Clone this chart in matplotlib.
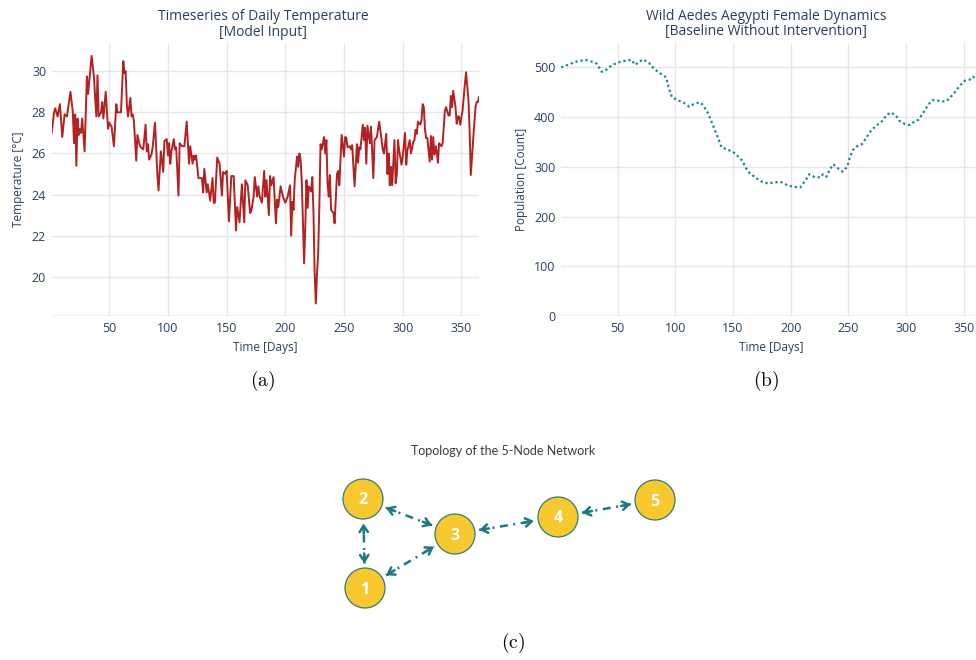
import matplotlib
matplotlib.use("Agg")
import matplotlib.pyplot as plt
from matplotlib.patches import Circle

# ---- data ---------------------------------------------------------------
temp_days = [1, 3, 4, 6, 8, 10, 12, 14, 17, 19, 20, 21, 22, 23, 24, 25, 26, 27, 29,
             31, 32, 34, 35, 36, 37, 39, 40, 41, 43, 44, 45, 47, 49, 50, 52, 54, 56,
             57, 60, 62, 63, 64, 65, 66, 68, 69, 70, 71, 73, 74, 76, 77, 79, 81, 82,
             83, 84, 86, 87, 89, 91, 92, 94, 96, 97, 99, 100, 101, 102, 103, 105, 106,
             107, 109, 110, 112, 114, 116, 118, 119, 121, 122, 123, 124, 126, 128, 129,
             130, 131, 133, 134, 136, 138, 139, 140, 142, 144, 146, 147, 149, 150, 152,
             154, 156, 158, 159, 161, 163, 165, 166, 168, 170, 171, 173, 174, 176, 177,
             178, 180, 182, 183, 184, 186, 187, 188, 190, 192, 193, 194, 196, 198, 199,
             200, 202, 204, 205, 206, 207, 208, 210, 211, 212, 213, 214, 216, 217, 218,
             219, 220, 222, 223, 224, 225, 226, 227, 228, 229, 230, 231, 233, 234, 235,
             236, 237, 238, 239, 241, 242, 244, 245, 246, 248, 250, 251, 252, 253, 255,
             256, 257, 259, 261, 262, 263, 264, 266, 267, 268, 269, 270, 272, 273, 275,
             276, 278, 280, 282, 283, 284, 286, 287, 288, 289, 290, 291, 293, 294, 295,
             296, 297, 299, 300, 302, 303, 304, 306, 307, 309, 310, 311, 312, 313, 315,
             316, 317, 318, 319, 320, 321, 323, 324, 325, 326, 327, 328, 329, 330, 331,
             333, 334, 336, 337, 339, 340, 341, 342, 343, 345, 346, 347, 348, 349, 351,
             353, 354, 356, 357, 358, 360, 362, 363, 364, 365]
temp_vals = [27.0, 28.0, 28.2, 27.8, 28.4, 26.8, 27.9, 27.8, 29.0, 28.0, 26.5, 27.9,
             25.4, 27.7, 26.9, 27.2, 27.0, 27.7, 26.1, 29.75, 28.9, 30.1, 30.75, 30.2,
             29.7, 27.8, 29.8, 27.8, 28.0, 28.5, 27.7, 29.0, 27.2, 27.5, 27.3, 26.35,
             28.4, 28.0, 28.0, 30.5, 29.9, 30.0, 28.4, 27.8, 28.7, 27.8, 27.9, 27.6,
             25.65, 26.9, 26.4, 26.3, 26.2, 27.4, 26.1, 26.45, 25.7, 25.95, 26.3, 27.5,
             25.0, 24.2, 26.1, 25.1, 26.6, 26.7, 25.9, 26.5, 25.5, 26.1, 26.7, 26.2,
             26.3, 23.95, 26.5, 26.35, 26.35, 27.55, 25.5, 26.35, 25.5, 25.9, 25.7,
             25.9, 24.8, 24.8, 24.8, 24.1, 25.25, 24.1, 24.5, 23.7, 24.8, 23.6, 23.6,
             25.8, 25.5, 23.95, 25.1, 25.0, 25.15, 22.7, 24.9, 24.9, 22.25, 23.4, 22.65,
             24.5, 22.65, 24.7, 24.45, 23.1, 23.2, 23.9, 24.85, 23.9, 24.4, 23.95, 23.6,
             25.15, 23.9, 24.7, 23.0, 24.9, 24.45, 24.85, 22.6, 23.75, 23.4, 24.4, 23.9,
             23.75, 23.6, 23.9, 24.45, 22.0, 23.65, 23.25, 24.7, 25.85, 25.35, 26.0,
             25.7, 24.7, 20.65, 22.4, 24.7, 23.35, 24.4, 24.15, 24.85, 23.1, 20.15, 18.7,
             20.15, 21.15, 23.45, 26.45, 26.2, 26.8, 26.0, 26.65, 24.55, 23.9, 24.95,
             23.25, 23.1, 22.6, 25.0, 25.15, 24.45, 26.9, 25.85, 26.8, 26.75, 26.3,
             26.35, 26.2, 26.4, 24.4, 26.45, 25.55, 26.3, 26.2, 27.4, 26.65, 27.25, 25.5,
             27.35, 26.5, 27.3, 24.8, 26.65, 26.8, 27.55, 26.65, 26.2, 26.0, 26.95, 25.0,
             26.0, 24.45, 25.35, 24.45, 26.65, 24.55, 25.0, 26.65, 26.15, 25.45, 25.85,
             27.0, 25.45, 26.15, 26.65, 26.0, 26.55, 26.65, 27.15, 26.95, 27.55, 27.4,
             27.6, 28.4, 28.25, 27.15, 26.75, 26.75, 25.6, 26.85, 25.7, 26.8, 25.95,
             26.35, 26.1, 25.55, 26.5, 26.35, 26.5, 28.1, 28.25, 27.85, 27.85, 28.8,
             28.25, 29.05, 28.25, 27.45, 27.8, 27.8, 27.4, 28.1, 29.4, 29.95, 28.6,
             27.15, 24.95, 26.65, 28.25, 28.5, 28.5, 28.75]

pop_days = [1, 7, 13, 22, 28, 32, 36, 39, 43, 49, 56, 62, 65, 69, 72, 77, 82, 88, 92,
            94, 97, 102, 107, 112, 116, 121, 124, 128, 132, 136, 140, 146, 152, 158,
            163, 169, 175, 181, 184, 191, 197, 202, 208, 213, 216, 221, 226, 228, 231,
            234, 237, 241, 245, 249, 251, 254, 258, 262, 266, 270, 275, 280, 283, 287,
            291, 294, 299, 303, 306, 311, 315, 319, 323, 328, 334, 337, 342, 347, 351,
            355, 358, 361, 365]
pop_vals = [500, 505, 511, 515, 511, 507, 491, 493, 501, 509, 513, 515, 505, 511, 516,
            509, 496, 486, 480, 461, 440, 434, 429, 421, 426, 430, 424, 409, 387, 364,
            339, 334, 327, 312, 290, 279, 270, 266, 268, 270, 263, 260, 258, 273, 285,
            279, 279, 285, 280, 295, 305, 297, 290, 300, 317, 334, 342, 346, 360, 374,
            384, 393, 404, 409, 404, 393, 386, 384, 389, 395, 409, 424, 434, 433, 431,
            436, 449, 464, 473, 475, 481, 476, 471]

# network: node labels, layout coordinates and bidirectional links
node_names = ["1", "2", "3", "4", "5"]
node_x = [-1.45, -1.47, -0.55, 0.48, 1.45]
node_y = [-0.48, 0.41, 0.06, 0.23, 0.40]
links = [(1, 2), (2, 3), (1, 3), (3, 4), (4, 5)]

# ---- style --------------------------------------------------------------
FONT = "Open Sans"
INK = "#2a3f5f"
GRID = "#e6e6e6"
plt.rcParams["font.family"] = [FONT, "DejaVu Sans"]
plt.rcParams["mathtext.fontset"] = "cm"

W, H = 976, 660
fig = plt.figure(figsize=(W / 100, H / 100), dpi=100)


def px_box(x0, y0, x1, y1):
    return [x0 / W, 1 - y1 / H, (x1 - x0) / W, (y1 - y0) / H]


def style_axis(ax):
    for s in ax.spines.values():
        s.set_visible(False)
    ax.grid(True, color=GRID, lw=1)
    ax.set_axisbelow(True)
    ax.tick_params(length=0, labelsize=9, labelcolor=INK, pad=4)
    ax.axhline(ax.get_ylim()[0], color="#ebf0f8", lw=2, zorder=0)


# (a) temperature
ax1 = fig.add_axes(px_box(51.7, 42.7, 479, 316))
ax1.plot(temp_days, temp_vals, color="#b22222", lw=1.4)
ax1.set_xlim(1, 365)
ax1.set_ylim(18.09, 31.39)
ax1.set_xticks(range(50, 351, 50))
ax1.set_yticks(range(20, 31, 2))
style_axis(ax1)
ax1.set_xlabel("Time [Days]", fontsize=8.5, color=INK)
ax1.set_ylabel("Temperature [°C]", fontsize=8.5, color=INK)
ax1.xaxis.set_label_coords(0.5, -0.092)
ax1.yaxis.set_label_coords(-0.062, 0.5)

# (b) population
ax2 = fig.add_axes(px_box(561.2, 42.7, 981, 316))
ax2.plot(pop_days, pop_vals, color="#1a8494", lw=1.6, ls=(0, (1, 1.3)))
ax2.set_xlim(1, 365)
ax2.set_ylim(0, 549.5)
ax2.set_xticks(range(50, 351, 50))
ax2.set_yticks(range(0, 501, 100))
style_axis(ax2)
ax2.set_xlabel("Time [Days]", fontsize=8.5, color=INK)
ax2.set_ylabel("Population [Count]", fontsize=8.5, color=INK)
ax2.xaxis.set_label_coords(0.5, -0.092)
ax2.yaxis.set_label_coords(-0.080, 0.5)

fig.text(263 / W, 1 - 16 / H, "Timeseries of Daily Temperature", ha="center",
         va="center", fontsize=10, color=INK)
fig.text(263 / W, 1 - 32 / H, "[Model Input]", ha="center", va="center",
         fontsize=10, color=INK)
fig.text(766 / W, 1 - 16 / H, "Wild Aedes Aegypti Female Dynamics", ha="center",
         va="center", fontsize=10, color=INK)
fig.text(766 / W, 1 - 32 / H, "[Baseline Without Intervention]", ha="center",
         va="center", fontsize=10, color=INK)

# subfigure captions
for cx, cy, lab in [(263, 381, "a"), (766, 381, "b"), (513, 643, "c")]:
    fig.text(cx / W, 1 - cy / H, r"$\mathrm{(%s)}$" % lab, ha="center", va="center",
             fontsize=14, color="black")

# (c) network
axn = fig.add_axes(px_box(310, 460, 710, 620))
axn.set_xlim(-2, 2)
axn.set_ylim(-0.8, 0.8)
axn.axis("off")
r = 0.2
edge_c = "#1c7a82"
for a, b in links:
    xa, ya = node_x[a - 1], node_y[a - 1]
    xb, yb = node_x[b - 1], node_y[b - 1]
    dx, dy = xb - xa, yb - ya
    d = (dx ** 2 + dy ** 2) ** 0.5
    ux, uy = dx / d, dy / d
    g = r + 0.045
    sx, sy = xa + ux * g, ya + uy * g
    ex, ey = xb - ux * g, yb - uy * g
    axn.plot([sx, ex], [sy, ey], color=edge_c, lw=1.8,
             ls=(0, (3.2, 2.2, 0.8, 2.2)), solid_capstyle="butt")
    for tx, ty, bx, by in [(ex, ey, ex - ux * 0.1, ey - uy * 0.1),
                           (sx, sy, sx + ux * 0.1, sy + uy * 0.1)]:
        axn.annotate("", xy=(tx, ty), xytext=(bx, by),
                     arrowprops=dict(arrowstyle="->,head_length=0.45,head_width=0.3",
                                     color=edge_c, lw=1.8, shrinkA=0, shrinkB=0))
for name, x, y in zip(node_names, node_x, node_y):
    axn.add_patch(Circle((x, y), r, facecolor="#f8c82f", edgecolor="#2f7f78",
                         lw=0.9, zorder=3))
    axn.text(x, y - 0.015, name, ha="center", va="center", color="white",
             fontsize=11.5, fontweight="bold", zorder=4)

fig.text(503 / W, 1 - 451 / H, "Topology of the 5-Node Network", ha="center",
         va="center", fontsize=9, color="#3b3b3b", family="Lato")

fig.savefig("out.png", dpi=100)
